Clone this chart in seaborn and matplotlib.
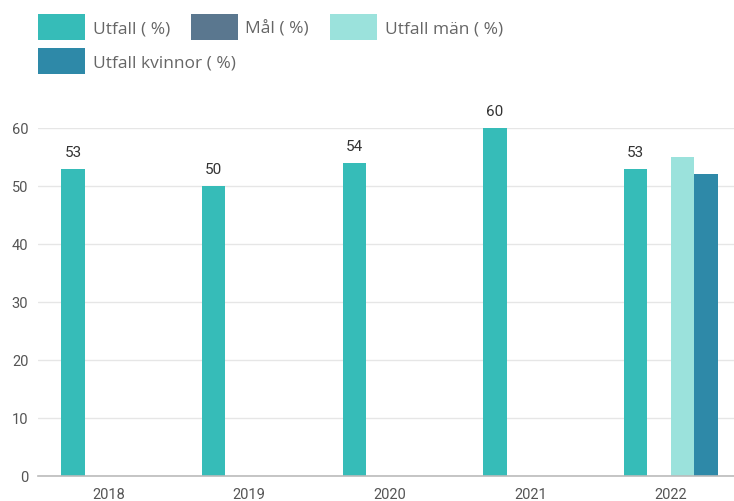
import numpy as np
import pandas as pd
import matplotlib
matplotlib.use("Agg")
import matplotlib.pyplot as plt
from matplotlib.patches import Patch
import seaborn as sns

years = ["2018", "2019", "2020", "2021", "2022"]
utfall = [53, 50, 54, 60, 53]
mal = [np.nan, np.nan, np.nan, np.nan, np.nan]
utfall_man = [np.nan, np.nan, np.nan, np.nan, 55]
utfall_kvinnor = [np.nan, np.nan, np.nan, np.nan, 52]

series_names = ["Utfall ( %)", "Mål ( %)", "Utfall män ( %)", "Utfall kvinnor ( %)"]
series_values = [utfall, mal, utfall_man, utfall_kvinnor]
colors = ["#36bcb8", "#5a778f", "#9be2dc", "#2e89a8"]

rows = []
for name, vals in zip(series_names, series_values):
    for y, v in zip(years, vals):
        rows.append({"year": y, "series": name, "value": v})
df = pd.DataFrame(rows)

sns.set_theme(style="white")
plt.rcParams["font.family"] = ["Open Sans", "DejaVu Sans"]

fig = plt.figure(figsize=(7.34, 5.02), dpi=100)
ax = fig.add_axes([38 / 734, 1 - 477 / 502, 1 - 38 / 734, (477 - 129) / 502])

palette = dict(zip(series_names, colors))
sns.barplot(data=df, x="year", y="value", hue="series", hue_order=series_names,
            order=years, palette=palette, width=0.67, gap=0, saturation=1,
            errorbar=None, legend=False, linewidth=0, ax=ax)

# value labels on the overall result bars
first = ax.containers[0]
ax.bar_label(first, labels=[f"{v:.0f}" for v in utfall], padding=7,
             fontsize=11, color="#333333", family=["Roboto", "DejaVu Sans"])

ax.set_ylim(0, 60)
ax.set_xlim(-0.5, 4 + (734 - 671) / 140.5)
ax.set_yticks(range(0, 61, 10))
ax.yaxis.grid(True, color="#e6e6e6", linewidth=1)
ax.set_axisbelow(True)
for side in ["top", "right", "left"]:
    ax.spines[side].set_visible(False)
ax.spines["bottom"].set_color("#bbbbbb")
ax.spines["bottom"].set_linewidth(1.2)
ax.tick_params(axis="x", length=0, labelsize=10.5, labelcolor="#555555", pad=8)
ax.tick_params(axis="y", length=0, labelsize=10.5, labelcolor="#555555", pad=7)
for lab in ax.get_xticklabels() + ax.get_yticklabels():
    lab.set_family(["Roboto", "DejaVu Sans"])
ax.set_xlabel("")
ax.set_ylabel("")

handles = [Patch(facecolor=c, edgecolor="none") for c in colors]
leg_kw = dict(frameon=False, fontsize=12.5, handlelength=2.7, handleheight=1.94,
              handletextpad=0.45, columnspacing=1.2, borderaxespad=0,
              borderpad=0, labelcolor="#666666")
fig.legend(handles[:3], series_names[:3], ncol=3, loc="upper left",
           bbox_to_anchor=(38 / 734, 1 - 15 / 502), **leg_kw)
fig.legend(handles[3:], series_names[3:], ncol=1, loc="upper left",
           bbox_to_anchor=(38 / 734, 1 - 49 / 502), **leg_kw)

fig.savefig("out.png", dpi=100)
